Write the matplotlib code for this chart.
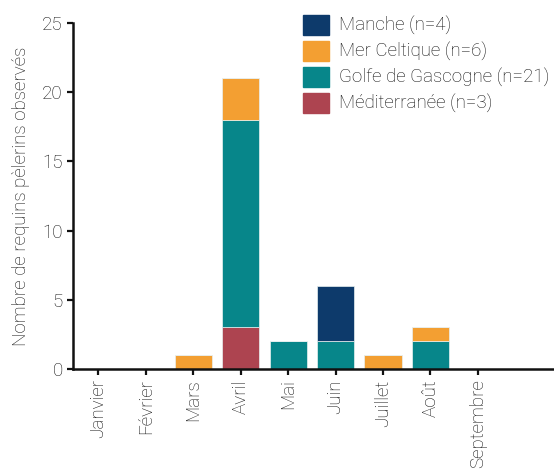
import numpy as np
import matplotlib.pyplot as plt
from matplotlib.patches import Patch

plt.rcParams['font.family'] = ['Roboto', 'DejaVu Sans']
plt.rcParams['font.weight'] = 'light'

# Données : nombre de requins pèlerins observés par mois et par zone
mois = ["Janvier", "Février", "Mars", "Avril", "Mai", "Juin", "Juillet", "Août", "Septembre"]
mediterranee = [0, 0, 0, 3, 0, 0, 0, 0, 0]
golfe = [0, 0, 0, 15, 2, 2, 0, 2, 0]
celtique = [0, 0, 1, 3, 0, 0, 1, 1, 0]
manche = [0, 0, 0, 0, 0, 4, 0, 0, 0]

series = [
    ("Méditerranée (n=3)", mediterranee, "#ad4450"),
    ("Golfe de Gascogne (n=21)", golfe, "#07868a"),
    ("Mer Celtique (n=6)", celtique, "#f39f32"),
    ("Manche (n=4)", manche, "#0d3a6b"),
]

fig = plt.figure(figsize=(5.54, 4.70), dpi=100)
ax = fig.add_axes([0.132, 0.215, 0.866, 0.736])

x = np.arange(len(mois))
bas = np.zeros(len(mois))
for nom, vals, coul in series:
    vals = np.array(vals, dtype=float)
    ax.bar(x, vals, bottom=bas, width=0.78, color=coul, edgecolor="#e8f0f0", linewidth=0.5)
    bas += vals

ax.set_xlim(-0.53, 9.58)
ax.set_ylim(0, 25)
ax.set_yticks([0, 5, 10, 15, 20, 25])
ax.set_xticks(x)
ax.set_xticklabels(mois, rotation=90)
ax.tick_params(axis="both", labelsize=13.5, colors="#111111", width=1.6, length=4)
for s in ["top", "right"]:
    ax.spines[s].set_visible(False)
for s in ["left", "bottom"]:
    ax.spines[s].set_linewidth(1.8)
    ax.spines[s].set_color("#111111")
ax.set_ylabel("Nombre de requins pèlerins observés", fontsize=13.5, color="#111111",
              labelpad=9, fontweight="light")

handles = [Patch(color=c, label=n) for n, v, c in series[::-1]]
leg = fig.legend(handles=handles, loc="upper left", bbox_to_anchor=(0.547, 0.968),
                 frameon=False, fontsize=13.5, handlelength=1.38, handleheight=1.23,
                 handletextpad=0.55, labelspacing=0.3, borderaxespad=0, borderpad=0)
for t in leg.get_texts():
    t.set_color("#111111")

fig.savefig("out.png", dpi=100)
